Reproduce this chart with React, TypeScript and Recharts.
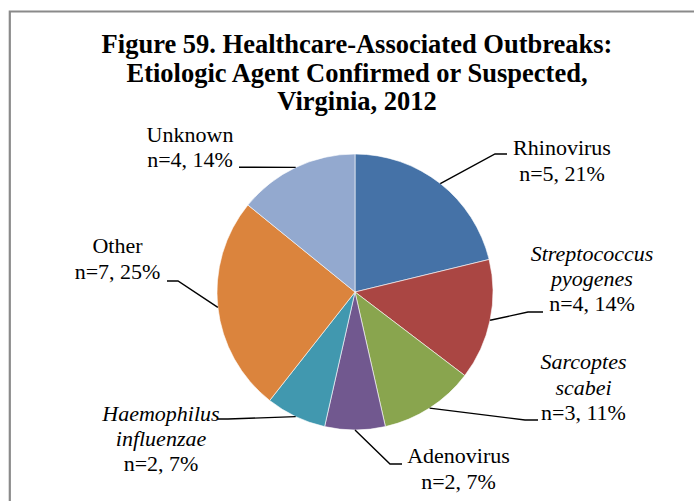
import React from 'react';
import { PieChart, Pie, Cell } from 'recharts';

// Etiologic agents of healthcare-associated outbreaks, Virginia 2012
const agents = [
  'Rhinovirus',
  'Streptococcus pyogenes',
  'Sarcoptes scabei',
  'Adenovirus',
  'Haemophilus influenzae',
  'Other',
  'Unknown',
];
const agentLabelLines = [
  ['Rhinovirus'],
  ['Streptococcus', 'pyogenes'],
  ['Sarcoptes', 'scabei'],
  ['Adenovirus'],
  ['Haemophilus', 'influenzae'],
  ['Other'],
  ['Unknown'],
];
const italicNames = [false, true, true, false, true, false, false];
const outbreakCounts = [5, 4, 3, 2, 2, 7, 4];
const outbreakPercents = [21, 14, 11, 7, 7, 25, 14];

const titleLines = [
  'Figure 59. Healthcare-Associated Outbreaks:',
  'Etiologic Agent Confirmed or Suspected,',
  'Virginia, 2012',
];

const sliceColors = ['#4572A7', '#AA4643', '#89A54E', '#71588F', '#4198AF', '#DB843D', '#93A9CF'];

// label placement: text centre x, first baseline y, leader elbow and leader end
const labelLayout = [
  { x: 562, y: 155.3, ex: 495, ey: 154, tx: 507, ty: 154 },
  { x: 592, y: 260.7, ex: 528, ey: 312, tx: 543, ty: 312 },
  { x: 583.5, y: 369.3, ex: 525, ey: 420, tx: 538, ty: 420 },
  { x: 458.5, y: 463.3, ex: 390, ey: 464, tx: 402, ty: 464 },
  { x: 161, y: 420.7, ex: 228, ey: 419, tx: 218, ty: 419 },
  { x: 117.5, y: 253.3, ex: 178, ey: 281, tx: 167, ty: 281 },
  { x: 190, y: 141.7, ex: 250, ey: 167.2, tx: 239, ty: 167.2 },
];

const data = agents.map((name, i) => ({
  name,
  value: outbreakPercents[i],
  count: outbreakCounts[i],
}));

const RADIAN = Math.PI / 180;
const FONT = '"Liberation Serif", "Times New Roman", serif';
const LINE_GAP = 25.3;

const CX = 355;
const CY = 292;
const R = 138;

function renderLabel(props: any) {
  const { midAngle, index } = props;
  const cx = props.cx ?? CX;
  const cy = props.cy ?? CY;
  const r = props.outerRadius ?? R;
  const px = cx + r * Math.cos(-midAngle * RADIAN);
  const py = cy + r * Math.sin(-midAngle * RADIAN);
  const L = labelLayout[index];
  const lines = [...agentLabelLines[index], `n=${outbreakCounts[index]}, ${outbreakPercents[index]}%`];
  const nameCount = agentLabelLines[index].length;
  return (
    <g key={`lbl-${index}`}>
      <polyline
        points={`${px},${py} ${L.ex},${L.ey} ${L.tx},${L.ty}`}
        fill="none"
        stroke="#000"
        strokeWidth={1.4}
      />
      <text textAnchor="middle" fontFamily={FONT} fontSize={22} fill="#000">
        {lines.map((t, i) => (
          <tspan
            key={i}
            x={L.x}
            y={L.y + i * LINE_GAP}
            fontStyle={i < nameCount && italicNames[index] ? 'italic' : 'normal'}
          >
            {t}
          </tspan>
        ))}
      </text>
    </g>
  );
}

export default function App() {
  return (
    <div
      style={{
        position: 'absolute',
        left: 0,
        top: 0,
        width: 694,
        height: 501,
        overflow: 'hidden',
        background: '#fff',
      }}
    >
      <svg width={694} height={501} style={{ position: 'absolute', left: 0, top: 0 }}>
        <path d="M 9.8 520 V 11.5 H 720" fill="none" stroke="#8a8a8a" strokeWidth={2.2} />
        <text textAnchor="middle" fontFamily={FONT} fontSize={26.5} fontWeight="bold" fill="#000">
          {titleLines.map((t, i) => (
            <tspan key={i} x={357} y={53.3 + i * 28.3}>
              {t}
            </tspan>
          ))}
        </text>
      </svg>
      <div style={{ position: 'absolute', left: 0, top: 0 }}>
        <PieChart width={694} height={501} margin={{ top: 0, right: 0, bottom: 0, left: 0 }}>
          <Pie
            data={data}
            dataKey="value"
            nameKey="name"
            cx={CX}
            cy={CY}
            outerRadius={R}
            startAngle={90}
            endAngle={-270}
            stroke="#ffffff"
            strokeWidth={0.6}
            label={renderLabel}
            labelLine={false}
            isAnimationActive={false}
          >
            {data.map((d, i) => (
              <Cell key={d.name} fill={sliceColors[i]} />
            ))}
          </Pie>
        </PieChart>
      </div>
    </div>
  );
}
